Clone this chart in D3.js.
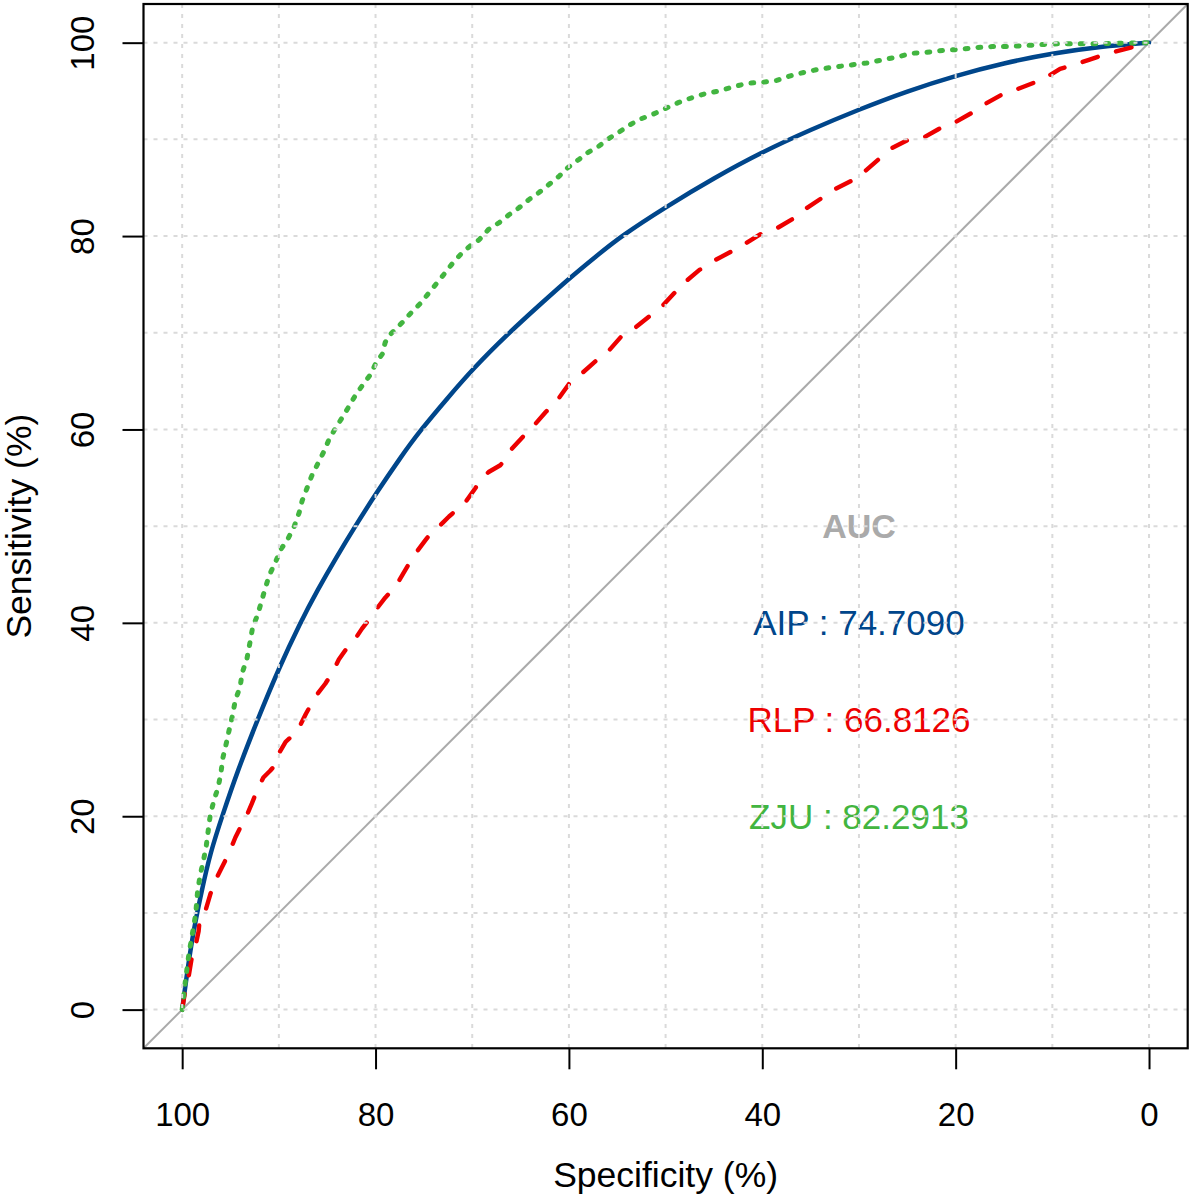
<!DOCTYPE html>
<html>
<head>
<meta charset="utf-8">
<script src="https://cdn.jsdelivr.net/npm/d3@7"></script>
<style>
  body { margin: 0; background: #fff; }
  text { font-family: "Liberation Sans", Arial, sans-serif; }
</style>
</head>
<body>
<svg id="chart" width="1193" height="1199"></svg>
<script>
// ROC curves, specificity (%) vs sensitivity (%)
const aipSpec = [100, 99.4, 98.8, 98.0, 97.1, 95.8, 94.3, 92.2, 90, 87.8, 86.0, 84.1, 82.1, 80, 77.5, 75.3, 72.5, 70, 66.2, 63, 60, 57.2, 54.6, 50, 45, 40, 35, 30, 25, 20, 15, 10, 5, 0];
const aipSens = [0, 4.5, 8.3, 12.2, 16.2, 20.2, 24.6, 30, 35.3, 40, 43.4, 46.7, 50, 53.3, 57, 60, 63.3, 66.2, 70, 72.9, 75.6, 77.9, 80, 83.0, 86.0, 88.7, 91.0, 93.1, 95.0, 96.6, 97.9, 98.9, 99.6, 100];

const rlpSpec = [100, 99.7, 99.3, 99.0, 98.6, 98.3, 98.2, 97.9, 97.6, 97.1, 96.6, 95.9, 95.2, 94.5, 93.8, 93.4, 92.8, 92.4, 92.1, 91.6, 90.9, 90.3, 90.0, 89.3, 88.4, 87.9, 87.2, 86.2, 85.2, 84.5, 83.8, 83.1, 82.2, 81.4, 80.7, 80.0, 79.0, 77.9, 76.9, 76.2, 75.7, 74.8, 74.1, 73.4, 72.4, 71.6, 70.7, 69.7, 69.0, 68.3, 67.1, 66.4, 65.9, 64.8, 63.8, 62.4, 61.7, 61.0, 60.0, 59.0, 57.2, 56.0, 54.6, 53.3, 51.8, 50.4, 49.1, 48.4, 46.5, 44.9, 43.2, 41.8, 40.0, 38.5, 36.8, 35.7, 33.9, 32.4, 30.4, 29.5, 27.9, 26.8, 25.0, 23.3, 21.7, 20.0, 18.4, 16.9, 15.1, 13.6, 11.8, 10.5, 9.2, 7.8, 6.3, 4.8, 3.4, 1.9, 0];
const rlpSens = [0, 1.9, 3.6, 5.4, 6.7, 8.1, 9.2, 9.9, 10.2, 11.9, 13.3, 14.7, 16.1, 17.8, 19.2, 19.9, 21.3, 22.3, 23.0, 24.0, 24.7, 25.4, 26.5, 27.7, 28.5, 29.2, 30.6, 32.4, 33.7, 34.8, 36.2, 37.2, 38.2, 39.4, 40.3, 41.3, 42.6, 43.8, 45.5, 46.7, 47.4, 48.6, 49.5, 50.0, 51.0, 51.7, 52.5, 53.9, 54.9, 55.6, 56.3, 57.1, 58.0, 59.2, 60.2, 61.8, 62.5, 63.3, 64.7, 65.5, 67.1, 68.0, 69.6, 70.4, 71.6, 72.7, 74.1, 74.9, 76.5, 77.5, 78.4, 79.2, 80.3, 80.8, 81.8, 82.7, 83.9, 84.9, 85.9, 86.6, 88.0, 89.0, 89.9, 90.2, 91.1, 91.8, 92.7, 93.7, 94.7, 95.2, 95.9, 96.5, 97.3, 97.7, 98.2, 98.7, 99.1, 99.5, 100];

const zjuSpec = [100, 99.7, 99.3, 99.0, 98.6, 98.4, 98.1, 97.8, 97.5, 97.1, 96.7, 96.3, 96.0, 95.8, 95.4, 95.1, 94.8, 94.5, 94.0, 93.8, 93.3, 93.0, 92.7, 92.2, 91.8, 91.4, 91.0, 90.3, 89.8, 89.1, 88.4, 87.9, 87.6, 86.6, 85.9, 85.3, 84.8, 84.1, 83.4, 82.8, 82.1, 81.4, 80.5, 80.0, 79.3, 79.0, 78.6, 77.9, 77.1, 76.2, 75.3, 74.5, 73.6, 72.8, 72.1, 71.2, 70.2, 69.3, 68.3, 67.2, 66.2, 65.2, 64.1, 63.1, 62.1, 61.0, 60.2, 59.0, 58.1, 56.9, 56.0, 54.9, 53.7, 52.6, 51.3, 50, 48.7, 47.3, 46.0, 44.5, 43.1, 41.6, 40, 38.5, 37.0, 35.4, 33.9, 32.4, 30.8, 29.2, 27.7, 26.1, 24.6, 23.0, 21.3, 19.7, 17.8, 16.2, 14.4, 12.9, 11.1, 9.2, 5.6, 0];
const zjuSens = [0, 2.7, 5.8, 7.5, 9.9, 12.3, 14.1, 15.4, 17.0, 20.1, 21.7, 22.9, 24.4, 26.0, 27.7, 29.1, 30.4, 32.0, 33.4, 34.8, 36.3, 37.9, 39.6, 40.8, 42.2, 43.6, 44.9, 46.4, 47.6, 48.6, 50, 51.4, 52.6, 55.2, 56.6, 57.8, 59.0, 60.2, 61.3, 62.3, 63.5, 64.5, 65.7, 66.8, 67.8, 69.0, 69.7, 70.4, 71.2, 72.2, 73.1, 74.1, 75.2, 76.2, 77.1, 78.1, 79.0, 79.6, 80.7, 81.4, 82.2, 82.9, 83.8, 84.5, 85.3, 86.2, 87.0, 87.9, 88.6, 89.3, 90.0, 90.7, 91.5, 92.1, 92.6, 93.2, 93.8, 94.3, 94.7, 95.0, 95.4, 95.8, 95.9, 96.1, 96.6, 97.0, 97.3, 97.5, 97.7, 97.9, 98.2, 98.5, 98.9, 99.0, 99.2, 99.3, 99.5, 99.6, 99.6, 99.7, 99.8, 99.9, 99.9, 100];

const tickValues = [100, 80, 60, 40, 20, 0];
const gridValues = [0, 10, 20, 30, 40, 50, 60, 70, 80, 90, 100];
const aucNames = ["AIP", "RLP", "ZJU"];
const aucValues = ["74.7090", "66.8126", "82.2913"];
const aucColors = ["#00468B", "#ED0000", "#42B540"];

const svg = d3.select("#chart");

const x = d3.scaleLinear().domain([104, -4]).range([143.5, 1187.7]);
const y = d3.scaleLinear().domain([-4, 104]).range([1048.3, 4]);

// chance line, corner to corner
svg.append("line")
  .attr("x1", x(104)).attr("y1", y(-4))
  .attr("x2", x(-4)).attr("y2", y(104))
  .attr("stroke", "#aaaaaa").attr("stroke-width", 2);

const series = [
  {spec: aipSpec, sens: aipSens, color: aucColors[0], dash: null, width: 4.5, curve: d3.curveBasis},
  {spec: rlpSpec, sens: rlpSens, color: aucColors[1], dash: "16 19", width: 4.4, curve: d3.curveLinear},
  {spec: zjuSpec, sens: zjuSens, color: aucColors[2], dash: "2.8 10", width: 5, curve: d3.curveLinear}
];

series.forEach(s => {
  const pts = s.spec.map((v, i) => [v, s.sens[i]]);
  const line = d3.line().x(d => x(d[0])).y(d => y(d[1])).curve(s.curve);
  svg.append("path")
    .datum(pts)
    .attr("d", line)
    .attr("fill", "none")
    .attr("stroke", s.color)
    .attr("stroke-width", s.width)
    .attr("stroke-linecap", "round")
    .attr("stroke-linejoin", "round")
    .attr("stroke-dasharray", s.dash);
});

// AUC labels
svg.append("text")
  .attr("x", x(30)).attr("y", y(50))
  .attr("text-anchor", "middle").attr("dominant-baseline", "central")
  .attr("font-size", 34).attr("font-weight", "bold").attr("fill", "#aaaaaa")
  .text("AUC");

svg.selectAll(".auc")
  .data(aucNames)
  .enter()
  .append("text")
  .attr("class", "auc")
  .attr("x", x(30))
  .attr("y", (d, i) => y(40 - i * 10))
  .attr("text-anchor", "middle").attr("dominant-baseline", "central")
  .attr("font-size", 35)
  .attr("fill", (d, i) => aucColors[i])
  .text((d, i) => d + " : " + aucValues[i]);

// dotted grid on top
const grid = svg.append("g")
  .attr("stroke", "#dadada").attr("stroke-width", 2).attr("stroke-dasharray", "4 6");
grid.selectAll(".gv").data(gridValues).enter().append("line")
  .attr("x1", d => x(d)).attr("x2", d => x(d))
  .attr("y1", y(104)).attr("y2", y(-4));
grid.selectAll(".gh").data(gridValues).enter().append("line")
  .attr("y1", d => y(d)).attr("y2", d => y(d))
  .attr("x1", x(104)).attr("x2", x(-4));

// axes
const xAxis = svg.append("g")
  .attr("transform", `translate(0,${y(-4)})`)
  .call(d3.axisBottom(x).tickValues(tickValues).tickSize(21).tickPadding(33));
xAxis.select(".domain").remove();
xAxis.selectAll("line").attr("stroke", "#000").attr("stroke-width", 2);
xAxis.selectAll("text").attr("font-size", 33).attr("fill", "#000")
  .attr("font-family", "Liberation Sans, Arial, sans-serif");

const yAxis = svg.append("g")
  .attr("transform", `translate(${x(104)},0)`)
  .call(d3.axisLeft(y).tickValues(tickValues).tickSize(21));
yAxis.select(".domain").remove();
yAxis.selectAll("line").attr("stroke", "#000").attr("stroke-width", 2);
yAxis.selectAll("text")
  .attr("x", null).attr("dy", null)
  .attr("transform", "translate(-50,0) rotate(-90)")
  .attr("text-anchor", "middle")
  .attr("font-size", 33).attr("fill", "#000")
  .attr("font-family", "Liberation Sans, Arial, sans-serif");

// plot box
svg.append("rect")
  .attr("x", x(104)).attr("y", y(104))
  .attr("width", x(-4) - x(104)).attr("height", y(-4) - y(104))
  .attr("fill", "none").attr("stroke", "#000").attr("stroke-width", 2.2);

// axis titles
svg.append("text")
  .attr("x", (x(104) + x(-4)) / 2).attr("y", 1187)
  .attr("text-anchor", "middle").attr("font-size", 35.5)
  .text("Specificity (%)");

svg.append("text")
  .attr("transform", `translate(31,${(y(104) + y(-4)) / 2}) rotate(-90)`)
  .attr("text-anchor", "middle").attr("font-size", 35.5)
  .text("Sensitivity (%)");
</script>
</body>
</html>
